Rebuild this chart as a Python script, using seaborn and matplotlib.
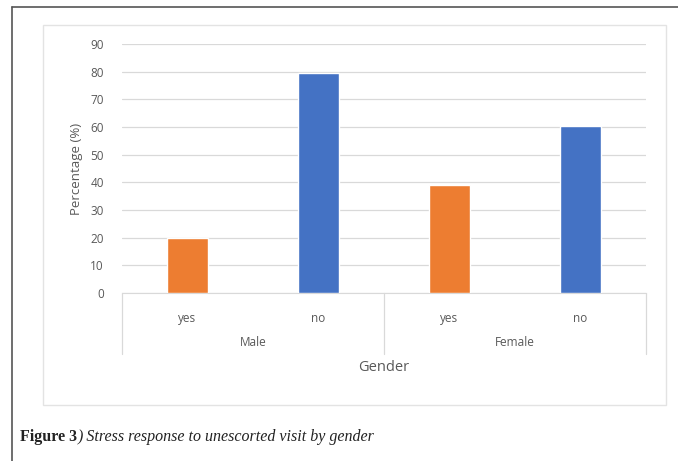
import pandas as pd
import matplotlib.pyplot as plt
import matplotlib.transforms as mtransforms
from matplotlib.patches import Rectangle
from matplotlib.lines import Line2D
import seaborn as sns

genders = ["Male", "Male", "Female", "Female"]
responses = ["yes", "no", "yes", "no"]
percent = [20, 79.5, 39, 60.5]
yticks = [0, 10, 20, 30, 40, 50, 60, 70, 80, 90]

df = pd.DataFrame({"gender": genders, "response": responses, "pct": percent})
df["slot"] = df["gender"] + " " + df["response"]

sns.set_style("white")
plt.rcParams["font.family"] = ["Open Sans", "DejaVu Sans"]
grey = "#595959"

fig = plt.figure(figsize=(6.78, 4.61), dpi=100)
ax = fig.add_axes([122/678, 1 - 293/461, 524/678, 249/461])

sns.barplot(data=df, x="slot", y="pct", hue="response",
            palette={"yes": "#ED7D31", "no": "#4472C4"}, saturation=1,
            dodge=False, width=0.31, legend=False, ax=ax, zorder=3)

ax.set_ylim(0, 90)
ax.set_xlim(-0.5, 3.5)
ax.set_yticks(yticks)
ax.set_yticklabels([str(v) for v in yticks], fontsize=8.5, color=grey)
ax.yaxis.grid(True, color="#d9d9d9", linewidth=0.9, zorder=0)
ax.set_axisbelow(True)
ax.tick_params(axis="y", length=0, pad=13)
ax.tick_params(axis="x", length=0, pad=14)
ax.set_xticks(range(4))
ax.set_xticklabels(responses, fontsize=8.5, color=grey)
ax.set_ylabel("Percentage (%)", fontsize=9.5, color=grey, labelpad=5)
ax.set_xlabel("")
for s in ["top", "right", "left"]:
    ax.spines[s].set_visible(False)
ax.spines["bottom"].set_color("#d9d9d9")

# category axis: group separators, group labels and axis title
trans = mtransforms.blended_transform_factory(ax.transData, ax.transAxes)
for xv in [-0.5, 1.5, 3.5]:
    ax.plot([xv, xv], [0, -0.245], transform=trans, color="#d9d9d9",
            linewidth=0.9, clip_on=False)
ax.text(0.5, -0.2, "Male", transform=trans, ha="center", va="center",
        fontsize=8.5, color=grey)
ax.text(2.5, -0.2, "Female", transform=trans, ha="center", va="center",
        fontsize=8.5, color=grey)
ax.text(1.5, -0.30, "Gender", transform=trans, ha="center", va="center",
        fontsize=10.5, color=grey)

# chart box and outer frame
fig.patches.append(Rectangle((43/678, 1 - 405/461), 623/678, 380/461,
                             transform=fig.transFigure, fill=False,
                             edgecolor="#e3e3e3", linewidth=1))
fig.lines.append(Line2D([12/678, 12/678], [0, 1 - 7/461],
                        transform=fig.transFigure, color="#555555", linewidth=1.2))
fig.lines.append(Line2D([12/678, 1], [1 - 7/461, 1 - 7/461],
                        transform=fig.transFigure, color="#555555", linewidth=1.2))

cap = fig.text(20/678, 1 - 437/461, "Figure 3", fontsize=11.5, fontweight="bold",
               family="Liberation Serif", va="center", color="#222222")
fig.canvas.draw()
bb = cap.get_window_extent()
fig.text(bb.x1 / 678 + 1/678, 1 - 437/461,
         ") Stress response to unescorted visit by gender",
         fontsize=11.5, style="italic", family="Liberation Serif", va="center",
         color="#222222")

fig.savefig("out.png", dpi=100)
